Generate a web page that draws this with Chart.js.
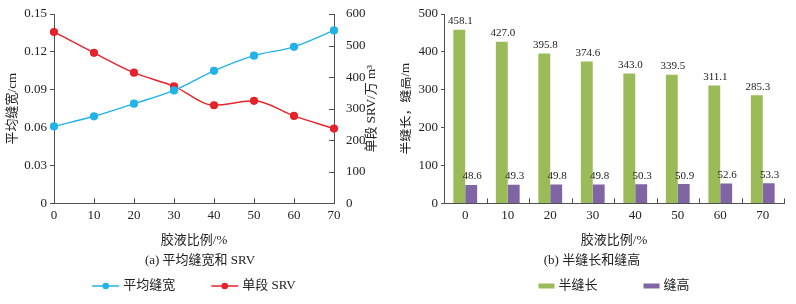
<!DOCTYPE html>
<html>
<head>
<meta charset="utf-8">
<script src="https://cdn.jsdelivr.net/npm/chart.js@4.4.1/dist/chart.umd.min.js"></script>
<style>
  html, body { margin: 0; padding: 0; background: #fff; }
  #wrap { width: 796px; height: 304px; display: flex; }
  .box { position: relative; height: 304px; }
</style>
</head>
<body>
<div id="wrap">
  <div class="box" style="width:400px"><canvas id="chartA"></canvas></div>
  <div class="box" style="width:396px"><canvas id="chartB"></canvas></div>
</div>
<script>
// data
const ratios = ['0', '10', '20', '30', '40', '50', '60', '70'];
const avgWidth = [0.061, 0.069, 0.079, 0.0895, 0.105, 0.117, 0.124, 0.137];
const srv = [543, 477, 414, 371, 311, 325, 277, 237];
const halfLength = [458.1, 427.0, 395.8, 374.6, 343.0, 339.5, 311.1, 285.3];
const fracHeight = [48.6, 49.3, 49.8, 49.8, 50.3, 50.9, 52.6, 53.3];

const FONT = "'Liberation Serif', 'Noto Sans CJK SC', serif";
const AXIS = '#505050';
const TEXT = '#222';
const BLUE = '#22B2E9';
const RED = '#E5232A';
const GREEN = '#9BBB59';
const PURPLE = '#7F65A3';

Chart.defaults.font.family = FONT;
Chart.defaults.font.size = 13;
Chart.defaults.color = TEXT;

// small ticks that point into the plot
const innerTicks = {
  id: 'innerTicks',
  afterDraw(chart, args, opts) {
    const ctx = chart.ctx;
    const area = chart.chartArea;
    ctx.save();
    ctx.strokeStyle = AXIS;
    ctx.lineWidth = 1;
    ctx.beginPath();
    if (opts.x) {
      const xs = chart.scales.x;
      let px = [];
      if (opts.x === 'between') {
        const step = (xs.right - xs.left) / xs.ticks.length;
        for (let i = 0; i <= xs.ticks.length; i++) px.push(xs.left + i * step);
      } else {
        xs.ticks.forEach((t, i) => px.push(xs.getPixelForTick(i)));
      }
      px.forEach(p => {
        p = Math.round(p) + 0.5;
        ctx.moveTo(p, area.bottom);
        ctx.lineTo(p, area.bottom - 5);
      });
    }
    if (opts.y1) {
      const ys = chart.scales.y1;
      ys.ticks.forEach((t, i) => {
        const p = Math.round(ys.getPixelForTick(i)) + 0.5;
        ctx.moveTo(area.right, p);
        ctx.lineTo(area.right - 5, p);
      });
    }
    ctx.stroke();
    ctx.restore();
  }
};

// vertical axis titles, read bottom to top
const sideTitles = {
  id: 'sideTitles',
  afterDraw(chart, args, opts) {
    const ctx = chart.ctx;
    const area = chart.chartArea;
    ctx.save();
    ctx.font = '13px ' + FONT;
    ctx.fillStyle = TEXT;
    ctx.textAlign = 'center';
    ctx.textBaseline = 'middle';
    (opts.items || []).forEach(it => {
      ctx.save();
      ctx.translate(it.x, (area.top + area.bottom) / 2);
      ctx.rotate(-Math.PI / 2);
      ctx.fillText(it.text, 0, 0);
      ctx.restore();
    });
    ctx.restore();
  }
};

// legend row at the bottom
const bottomKey = {
  id: 'bottomKey',
  afterDraw(chart, args, opts) {
    const ctx = chart.ctx;
    ctx.save();
    ctx.font = '13px ' + FONT;
    ctx.textBaseline = 'middle';
    const items = chart.data.datasets.map(ds => ({
      text: ds.label,
      color: ds.borderColor || ds.backgroundColor,
      w: opts.markW + opts.textGap + ctx.measureText(ds.label).width
    }));
    const total = items.reduce((s, it) => s + it.w, 0) + opts.itemGap * (items.length - 1);
    let x = (chart.chartArea.left + chart.chartArea.right) / 2 - total / 2;
    const y = opts.y;
    items.forEach(it => {
      if (opts.kind === 'line') {
        ctx.strokeStyle = it.color;
        ctx.lineWidth = 1.5;
        ctx.beginPath();
        ctx.moveTo(x, y);
        ctx.lineTo(x + opts.markW, y);
        ctx.stroke();
        ctx.fillStyle = it.color;
        ctx.beginPath();
        ctx.arc(x + opts.markW / 2, y, 3.3, 0, Math.PI * 2);
        ctx.fill();
      } else {
        ctx.fillStyle = it.color;
        ctx.fillRect(x, y - 2.5, opts.markW, 5);
      }
      ctx.fillStyle = TEXT;
      ctx.fillText(it.text, x + opts.markW + opts.textGap, y);
      x += it.w + opts.itemGap;
    });
    ctx.restore();
  }
};

// numbers above the bars
const barLabels = {
  id: 'barLabels',
  afterDatasetsDraw(chart) {
    const ctx = chart.ctx;
    ctx.save();
    ctx.font = '11px ' + FONT;
    ctx.fillStyle = TEXT;
    ctx.textAlign = 'center';
    ctx.textBaseline = 'bottom';
    chart.data.datasets.forEach((ds, i) => {
      chart.getDatasetMeta(i).data.forEach((bar, j) => {
        ctx.fillText(ds.data[j].toFixed(1), bar.x + 1, bar.y - 3);
      });
    });
    ctx.restore();
  }
};

const xFit = s => { s.height = 45; };

// (a) line chart
new Chart(document.getElementById('chartA'), {
  type: 'line',
  data: {
    labels: ratios,
    datasets: [{
      label: '平均缝宽',
      data: avgWidth,
      yAxisID: 'y',
      borderColor: BLUE,
      backgroundColor: BLUE,
      borderWidth: 1.4,
      pointRadius: 3.4,
      cubicInterpolationMode: 'monotone'
    }, {
      label: '单段 SRV',
      data: srv,
      yAxisID: 'y1',
      borderColor: RED,
      backgroundColor: RED,
      borderWidth: 1.4,
      pointRadius: 3.4,
      cubicInterpolationMode: 'monotone'
    }]
  },
  options: {
    responsive: true,
    maintainAspectRatio: false,
    animation: false,
    layout: { padding: { top: 14, left: 0, right: 0, bottom: 30 } },
    scales: {
      x: {
        offset: false,
        afterFit: xFit,
        grid: { display: false, drawTicks: false },
        border: { color: AXIS },
        ticks: { padding: 4, maxRotation: 0 },
        title: { display: true, text: '胶液比例/%', padding: { top: 0, bottom: 0 } }
      },
      y: {
        min: 0, max: 0.15,
        afterFit: s => { s.width = 54; },
        ticks: { stepSize: 0.03, padding: 3, callback: v => v === 0 ? '0' : v.toFixed(2) },
        grid: { drawOnChartArea: false, tickLength: 4, color: AXIS },
        border: { color: AXIS }
      },
      y1: {
        position: 'right',
        min: 0, max: 600,
        afterFit: s => { s.width = 66; },
        ticks: { stepSize: 100, padding: 4 },
        grid: { display: false },
        border: { color: AXIS }
      }
    },
    plugins: {
      innerTicks: { x: 'tick', y1: true },
      sideTitles: { items: [{ text: '平均缝宽/cm', x: 13 }, { text: '单段 SRV/万 m³', x: 372 }] },
      bottomKey: { kind: 'line', markW: 27, textGap: 4, itemGap: 36, y: 286 },
      title: {
        display: true,
        position: 'bottom',
        text: '(a) 平均缝宽和 SRV',
        font: { size: 13, weight: 'normal' },
        padding: { top: 4, bottom: 6 }
      },
      legend: { display: false },
      tooltip: { enabled: false }
    }
  },
  plugins: [innerTicks, sideTitles, bottomKey]
});

// (b) bar chart
new Chart(document.getElementById('chartB'), {
  type: 'bar',
  data: {
    labels: ratios,
    datasets: [{
      label: '半缝长',
      data: halfLength,
      backgroundColor: GREEN,
      categoryPercentage: 0.56,
      barPercentage: 1
    }, {
      label: '缝高',
      data: fracHeight,
      backgroundColor: PURPLE,
      categoryPercentage: 0.56,
      barPercentage: 1
    }]
  },
  options: {
    responsive: true,
    maintainAspectRatio: false,
    animation: false,
    layout: { padding: { top: 14, left: 0, right: 12, bottom: 30 } },
    scales: {
      x: {
        afterFit: xFit,
        grid: { display: false, drawTicks: false },
        border: { color: AXIS },
        ticks: { padding: 4, maxRotation: 0 },
        title: { display: true, text: '胶液比例/%', padding: { top: 0, bottom: 0 } }
      },
      y: {
        min: 0, max: 500,
        afterFit: s => { s.width = 44; },
        ticks: { stepSize: 100, padding: 3 },
        grid: { drawOnChartArea: false, tickLength: 3, color: AXIS },
        border: { color: AXIS }
      }
    },
    plugins: {
      innerTicks: { x: 'between' },
      sideTitles: { items: [{ text: '半缝长，缝高/m', x: 6 }] },
      bottomKey: { kind: 'box', markW: 16, textGap: 4, itemGap: 46, y: 286 },
      title: {
        display: true,
        position: 'bottom',
        text: '(b) 半缝长和缝高',
        font: { size: 13, weight: 'normal' },
        padding: { top: 4, bottom: 6 }
      },
      legend: { display: false },
      tooltip: { enabled: false }
    }
  },
  plugins: [innerTicks, sideTitles, bottomKey, barLabels]
});
</script>
</body>
</html>
